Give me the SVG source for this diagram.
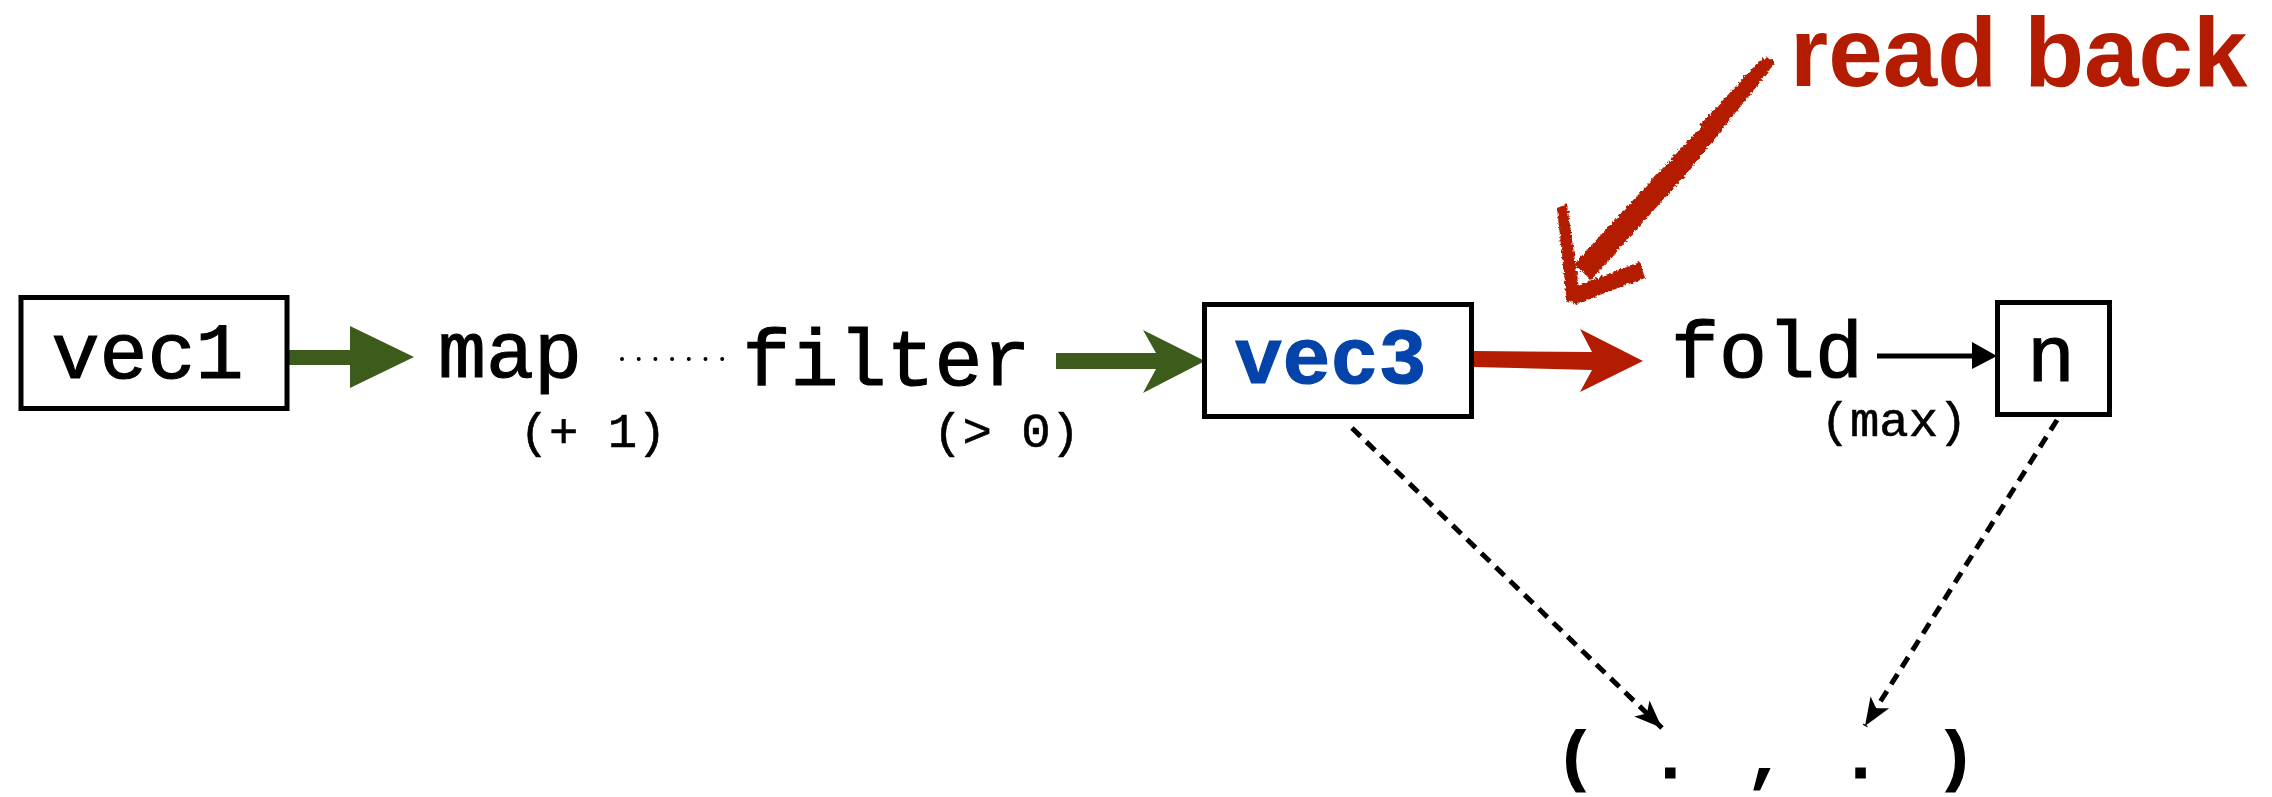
<svg xmlns="http://www.w3.org/2000/svg" width="2272" height="797" viewBox="0 0 2272 797">
<style>
.box{fill:#fff;stroke:#000;stroke-width:5}
.mono{font-family:"Liberation Mono","Courier New",monospace;fill:#000;stroke:#000;stroke-width:1.2;text-anchor:middle}
.big{font-size:80px}
.small{font-size:49px;stroke-width:0.6}
.green{fill:#3D5C1B}
.red{fill:#B41C02}
.dash{fill:none;stroke:#000;stroke-width:5;stroke-dasharray:12 8}
</style>
<defs>
<marker id="dhead" markerUnits="userSpaceOnUse" markerWidth="34" markerHeight="28" viewBox="-30 -14 34 28" refX="0" refY="0" orient="auto">
<path d="M0,0 L-28,-11 L-21,0 L-28,11 Z" fill="#000"/>
</marker>
<filter id="rough" x="-10%" y="-10%" width="120%" height="120%">
<feTurbulence type="fractalNoise" baseFrequency="0.35" numOctaves="2" seed="3"/>
<feDisplacementMap in="SourceGraphic" scale="5" xChannelSelector="R" yChannelSelector="G"/>
</filter>
</defs>
<rect width="2272" height="797" fill="#fff"/>

<g id="connectors">
<path class="green" d="M289,350 L350,350 L350,326 L414,357 L350,388 L350,365 L289,365 Z"/>
<line x1="622" y1="359" x2="724" y2="359" stroke="#000" stroke-width="4" stroke-linecap="round" stroke-dasharray="0 16.7"/>
<path class="green" d="M1056,353 L1156,353 L1143,330 L1205,361 L1143,393 L1156,369 L1056,369 Z"/>
<path class="red" d="M1474,351 L1592,352 L1580,329 L1643,361 L1580,392 L1592,370 L1474,367 Z"/>
<line x1="1877" y1="356" x2="1976" y2="356" stroke="#000" stroke-width="5"/>
<path d="M1972,342 L1997,356 L1972,369 Z" fill="#000"/>
<line class="dash" x1="1352" y1="428" x2="1662" y2="728" marker-end="url(#dhead)"/>
<line class="dash" x1="2057" y1="420" x2="1865" y2="726" marker-end="url(#dhead)"/>
</g>

<g id="node-vec1">
<rect class="box" x="21" y="297.5" width="266" height="111"/>
<text class="mono big" x="147.5" y="378">vec1</text>
</g>
<g id="node-map">
<text class="mono big" x="510" y="377">map</text>
<text class="mono small" x="593" y="447">(+ 1)</text>
</g>
<g id="node-filter">
<text class="mono big" x="886.5" y="385">filter</text>
<text class="mono small" x="1006.5" y="447">(&gt; 0)</text>
</g>
<g id="node-vec3">
<rect class="box" x="1204.5" y="304.5" width="267" height="112"/>
<text class="mono big" x="1330.5" y="383" font-weight="bold" style="fill:#0444AA;stroke:#0444AA">vec3</text>
</g>
<g id="node-fold">
<text class="mono big" x="1767" y="377">fold</text>
<text class="mono small" x="1894" y="436">(max)</text>
</g>
<g id="node-n">
<rect class="box" x="1997.5" y="302.5" width="112" height="112"/>
<text class="mono big" x="2051" y="381">n</text>
</g>
<g id="node-pair">
<text class="mono" x="1765.5" y="778" font-size="66" font-weight="bold" textLength="420" lengthAdjust="spacing">( . , . )</text>
</g>
<g id="note-readback">
<text x="1790" y="86" font-family="'Liberation Sans',Arial,sans-serif" font-weight="bold" font-size="98" fill="#B41C02">read back</text>
<g class="red" filter="url(#rough)">
<path d="M1775,63 L1768,57 L1674,156 L1574,264 L1591,280 L1690,170 Z"/>
<path d="M1770,60 L1762,58 L1700,125 L1705,131 Z"/>
<path d="M1557,208 L1567,204 L1580,296 L1567,302 Z"/>
<path d="M1565,291 L1640,262 L1645,278 L1573,305 Z"/>
</g>
</g>
</svg>
